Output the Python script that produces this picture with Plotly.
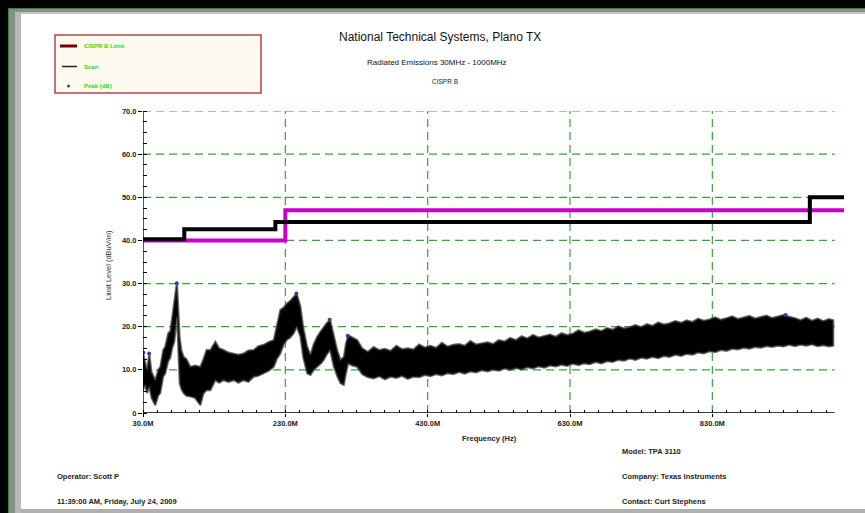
import plotly.graph_objects as go

W, H = 865, 513

# ---- limit lines (dBuV/m vs MHz) ----
cispr_freq = [30, 230, 1015]
cispr_level = [40.0, 47.0, 47.0]
fcc_freq = [30, 88, 216, 967, 1015]
fcc_level = [40.3, 42.6, 44.3, 50.0, 50.0]

# ---- scan trace envelope (MHz, upper dB, lower dB) ----
scan_freq = [30, 33, 35.6, 38.8, 42, 47.3, 51.4, 54.3, 58.4, 61.3, 65.4, 68.4, 71, 74,
             76.5, 77.8, 79.5, 81.5, 84, 87.1, 91, 96.5, 103, 110.6, 115, 119.3, 124.7,
             131.7, 137, 143.4, 150, 157.5, 164, 171.5, 178, 185.6, 192, 199.6, 207,
             213.7, 218, 223, 228, 232.4, 237, 241.8, 246, 251.2, 255, 260.6, 265.3,
             270, 274.7, 280, 284, 288, 292.9, 298.1, 303, 307.5, 312.2, 315, 318.3,
             324, 330.9, 338, 346, 354, 362, 370, 378, 386, 394, 402, 410, 418, 426,
             434, 442, 450, 458, 466, 474, 482, 490, 498, 506, 514, 522, 530, 538, 546,
             554, 562, 570, 578, 586, 594, 602, 610, 618, 626, 634, 642, 650, 658, 666,
             674, 682, 690, 698, 706, 714, 722, 730, 738, 746, 754, 762, 770, 778, 786,
             794, 802, 810, 818, 826, 834, 842, 850, 858, 866, 874, 882, 890, 898, 906,
             914, 922, 930, 938, 946, 954, 962, 970, 978, 986, 994, 1000]
scan_upper = [14.0, 12.0, 9.9, 13.8, 9.5, 7.6, 10.0, 10.7, 14.6, 15.4, 18.5, 19.0, 22.5, 25.4,
              29.0, 30.1, 25.0, 17.7, 14.5, 13.0, 12.5, 10.7, 11.0, 10.7, 12.5, 14.6, 14.6,
              16.5, 15.0, 14.6, 14.0, 13.8, 13.5, 13.8, 14.5, 14.6, 15.5, 15.8, 16.5,
              16.9, 20.0, 23.9, 24.5, 25.4, 26.0, 26.9, 27.7, 24.7, 20.0, 15.4, 13.5,
              16.0, 17.7, 19.0, 20.0, 20.8, 21.6, 17.7, 14.5, 12.3, 13.0, 16.0, 18.0,
              17.5, 16.9, 15.0, 14.2, 15.3, 14.6, 14.9, 14.4, 15.6, 14.8, 15.0, 14.7,
              15.9, 15.2, 15.6, 15.1, 16.3, 15.4, 15.8, 16.0, 15.6, 16.7, 15.9, 16.1,
              16.4, 16.0, 16.9, 16.6, 17.4, 16.9, 17.8, 17.3, 18.1, 17.5, 17.8, 18.2,
              17.7, 18.5, 18.1, 18.4, 19.2, 18.6, 18.9, 19.4, 19.0, 19.7, 19.3, 20.1,
              19.6, 19.9, 20.4, 19.9, 20.6, 20.2, 21.0, 20.5, 20.8, 21.3, 20.9, 21.5,
              21.1, 21.9, 21.4, 21.7, 22.2, 21.6, 22.0, 22.4, 21.8, 22.1, 22.5, 21.9,
              22.3, 22.6, 22.0, 22.4, 22.7, 22.3, 22.0, 21.5, 22.1, 21.4, 21.9, 21.3,
              21.8, 21.5]
scan_lower = [5.3, 6.5, 4.6, 6.1, 3.5, 1.8, 4.0, 4.6, 8.4, 9.2, 12.0, 12.8, 15.0, 16.5,
              20.5, 22.3, 14.0, 6.9, 5.5, 4.6, 4.0, 3.8, 3.5, 1.8, 4.5, 5.3, 5.3,
              7.6, 7.0, 7.6, 7.2, 7.6, 7.0, 7.6, 7.2, 8.4, 8.6, 9.2, 9.8,
              10.7, 12.5, 13.8, 16.0, 17.0, 17.5, 18.5, 20.0, 17.7, 13.0, 9.2, 8.8,
              10.0, 10.7, 11.5, 12.3, 13.5, 14.6, 10.7, 8.5, 6.9, 6.5, 9.0, 11.5,
              11.0, 10.7, 9.0, 8.3, 8.0, 8.5, 7.8, 8.4, 8.1, 8.6, 7.9, 8.4,
              8.3, 8.8, 8.5, 9.0, 8.7, 9.2, 9.0, 9.5, 9.1, 9.6, 9.4, 9.9,
              9.6, 10.0, 9.8, 10.3, 10.0, 10.4, 10.1, 10.6, 10.3, 10.8, 10.5, 11.0,
              10.8, 11.2, 10.9, 11.4, 11.1, 11.5, 11.3, 11.8, 11.5, 12.0, 11.8, 12.3,
              12.1, 12.6, 12.3, 12.8, 12.6, 13.0, 12.7, 13.2, 13.0, 13.5, 13.2, 13.7,
              13.5, 14.0, 13.8, 14.3, 14.1, 14.6, 14.4, 14.9, 14.7, 15.1, 14.9, 15.3,
              15.1, 15.5, 15.3, 15.6, 15.4, 15.8, 15.5, 15.8, 15.6, 15.9, 15.5, 15.7,
              15.4, 15.6]

# ---- detected peaks ----
peak_freq = [30.5, 38.6, 77.5, 245.5, 292.3, 317.6, 933]
peak_level = [14.0, 13.8, 30.1, 27.7, 21.6, 17.9, 22.7]

# ---- axis ticks ----
x_ticks = list(range(30, 1000, 20))
x_labels = [f"{v:.1f}M" if (v - 30) % 200 == 0 else "" for v in x_ticks]
y_ticks = [i * 2.5 for i in range(29)]
y_labels = [("0" if v == 0 else f"{v:.1f}") if v % 10 == 0 else "" for v in y_ticks]
x_grid = [230, 430, 630, 830]
y_grid = [10, 20, 30, 40, 50, 60, 70]
X_MIN, X_END, X_MAX = 30, 1002, 1015
Y_MIN, Y_MAX = 0, 70

FONT = "Liberation Sans"
GREEN_GRID = "#3aa23a"


def px(x):
    return x / W


def py(y):
    return 1 - y / H


fig = go.Figure()

fig.add_trace(go.Scatter(
    x=scan_freq + scan_freq[::-1], y=scan_upper + scan_lower[::-1],
    fill="toself", fillcolor="black", mode="lines",
    line=dict(color="rgba(50,50,50,0.7)", width=2), hoverinfo="skip", showlegend=False))
fig.add_trace(go.Scatter(
    x=cispr_freq, y=cispr_level, mode="lines", line_shape="hv",
    line=dict(color="#c800c8", width=4), showlegend=False))
fig.add_trace(go.Scatter(
    x=fcc_freq, y=fcc_level, mode="lines", line_shape="hv",
    line=dict(color="black", width=4), showlegend=False))
fig.add_trace(go.Scatter(
    x=peak_freq, y=peak_level, mode="markers",
    marker=dict(color="#3a3aa8", size=4), showlegend=False))

shapes = []
# dashed grid
for g in y_grid:
    shapes.append(dict(type="line", xref="x", yref="y", x0=X_MIN, x1=X_END, y0=g, y1=g,
                       line=dict(color=GREEN_GRID, width=1.2, dash="8px,5px"), layer="below"))
for g in x_grid:
    shapes.append(dict(type="line", xref="x", yref="y", x0=g, x1=g, y0=Y_MIN, y1=Y_MAX,
                       line=dict(color=GREEN_GRID, width=1.2, dash="8px,5px"), layer="below"))
# axis lines
shapes.append(dict(type="line", xref="x", yref="y", x0=X_MIN, x1=X_END, y0=0, y1=0,
                   line=dict(color="black", width=1.3)))
shapes.append(dict(type="line", xref="x", yref="y", x0=X_MIN, x1=X_MIN, y0=0, y1=Y_MAX,
                   line=dict(color="black", width=1.3)))


def rect(x0, x1, y0, y1, color):
    return dict(type="rect", xref="paper", yref="paper", x0=px(x0), x1=px(x1),
                y0=py(y1), y1=py(y0), fillcolor=color, line_width=0, layer="above")


# page frame
shapes += [
    rect(0, W, 0, 8, "black"),
    rect(0, 8, 0, H, "black"),
    rect(8, W, 8, 9, "#2a8a2a"),
    rect(8, 9, 8, H, "#2a8a2a"),
    rect(9, W, 9, 12, "#8c8c8c"),
    rect(9, W, 12, 14, "#c4c4c4"),
    rect(9, 15, 9, H, "#8c8c8c"),
    rect(15, 21, 12, H, "#b8b8b8"),
    rect(21, W, 509, H, "#b0b0b0"),
]

# legend box
shapes += [
    dict(type="rect", xref="paper", yref="paper", x0=px(55), x1=px(261), y0=py(93), y1=py(35),
         fillcolor="#fffaf0", line=dict(color="#b04848", width=1.5), layer="above"),
    dict(type="line", xref="paper", yref="paper", x0=px(60), x1=px(77), y0=py(46), y1=py(46),
         line=dict(color="#7a0000", width=3), layer="above"),
    dict(type="line", xref="paper", yref="paper", x0=px(62), x1=px(77), y0=py(66.5), y1=py(66.5),
         line=dict(color="#202020", width=1.5), layer="above"),
    dict(type="circle", xref="paper", yref="paper", x0=px(67), x1=px(70), y0=py(87.5), y1=py(84.5),
         fillcolor="#3a3aa8", line_width=0, layer="above"),
]

annotations = []


def text(x, y, s, size, color="black", bold=False, xanchor="left", angle=0, family=FONT):
    annotations.append(dict(
        xref="paper", yref="paper", x=px(x), y=py(y), text=f"<b>{s}</b>" if bold else s,
        showarrow=False, xanchor=xanchor, yanchor="middle", textangle=angle,
        font=dict(family=family, size=size, color=color)))


text(82, 46, "CISPR B Limit", 6, "#22dd22", bold=True)
text(82, 66.5, "Scan", 6, "#22dd22", bold=True)
text(82, 86, "Peak (dB)", 6, "#22dd22", bold=True)

text(440, 37, "National Technical Systems, Plano TX", 12, "#111111", xanchor="center")
text(437, 62, "Radiated Emissions 30MHz - 1000MHz", 8, "#111111", xanchor="center")
text(445, 81, "CISPR B", 6.5, "#222222", xanchor="center")

text(108, 265, "Limit Level (dBuV/m)", 7.5, "#333333", angle=-90, xanchor="center")
text(489, 438, "Frequency (Hz)", 7.5, "#222222", bold=True, xanchor="center")

text(620, 451, "Model: TPA 3110", 7.5, "#222222", bold=True)
text(55, 476, "Operator: Scott P", 7.5, "#222222", bold=True)
text(620, 476, "Company: Texas Instruments", 7.5, "#222222", bold=True)
text(55, 501, "11:39:00 AM, Friday, July 24, 2009", 7.5, "#222222", bold=True)
text(620, 501, "Contact: Curt Stephens", 7.5, "#222222", bold=True)

tick_font = dict(family=FONT, size=7.5, color="#222222", weight="bold")

fig.update_layout(
    template="none",
    width=W, height=H, margin=dict(l=0, r=0, t=0, b=0, pad=0),
    paper_bgcolor="white", plot_bgcolor="rgba(0,0,0,0)",
    showlegend=False, shapes=shapes, annotations=annotations,
    xaxis=dict(
        domain=[px(143), px(844)], range=[X_MIN, X_MAX], showgrid=False, zeroline=False,
        showline=False, automargin=False, tickmode="array", tickvals=x_ticks,
        ticktext=x_labels, ticks="outside", ticklen=3, tickwidth=1, tickcolor="black",
        minor=dict(tickmode="array", tickvals=x_ticks, ticks="inside", ticklen=3,
                   tickwidth=1, tickcolor="black"),
        tickfont=tick_font, tickangle=0,
    ),
    yaxis=dict(
        domain=[py(413), py(111)], range=[Y_MIN, Y_MAX], showgrid=False, zeroline=False,
        showline=False, automargin=False, tickmode="array", tickvals=y_ticks,
        ticktext=y_labels, ticks="outside", ticklen=4, tickwidth=1, tickcolor="black",
        minor=dict(tickmode="array", tickvals=y_ticks, ticks="inside", ticklen=4,
                   tickwidth=1, tickcolor="black"),
        tickfont=tick_font,
    ),
)

fig.write_html("out.html")
